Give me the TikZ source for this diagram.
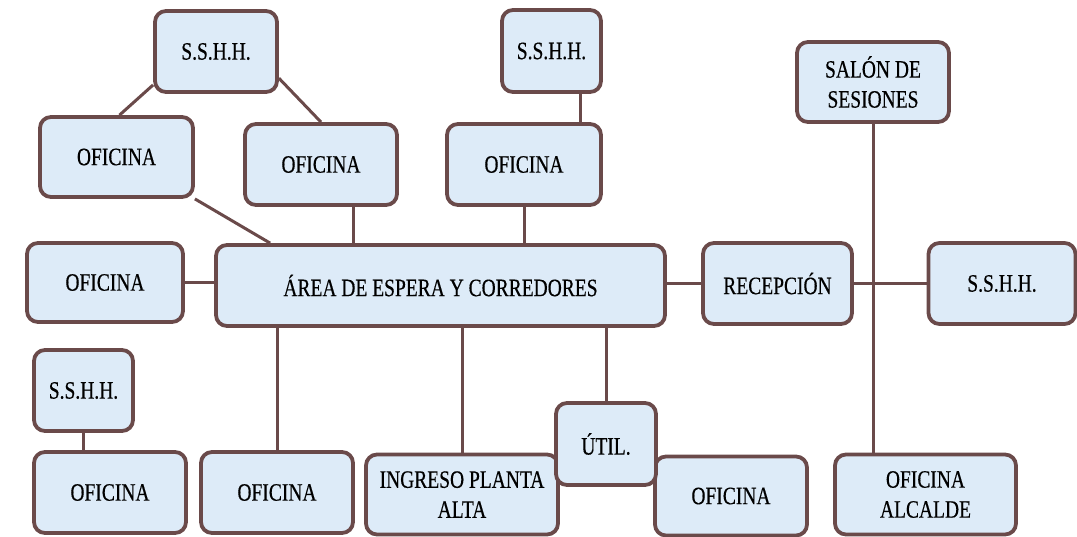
\documentclass[tikz,border=0pt]{standalone}
\usepackage{fontspec}
\setmainfont[FakeStretch=0.78,FakeBold=0.4]{Liberation Serif}
\definecolor{bordc}{HTML}{6A4A4A}
\definecolor{fillc}{HTML}{DDEBF8}
\begin{document}
\begin{tikzpicture}[x=1pt,y=-1pt,
  box/.style={draw=bordc, line width=3.8pt, fill=fillc, rounded corners=11pt,
    align=center, inner sep=0pt, font=\fontsize{25}{30}\selectfont},
  link/.style={draw=bordc, line width=3pt}]
\useasboundingbox (0,0) rectangle (1077,536);
\node[box, minimum width=122pt, minimum height=81pt] (s1) at (216,51.5) {S.S.H.H.};
\node[box, minimum width=153pt, minimum height=80pt] (o2) at (116.5,157) {OFICINA};
\node[box, minimum width=152pt, minimum height=81pt] (o3) at (321,164.5) {OFICINA};
\node[box, minimum width=99pt, minimum height=82pt] (s4) at (551.5,51) {S.S.H.H.};
\node[box, minimum width=154pt, minimum height=81pt] (o5) at (524,164.5) {OFICINA};
\node[box, minimum width=152pt, minimum height=80pt] (salon) at (873,82) {SALÓN DE\\SESIONES};
\node[box, minimum width=156pt, minimum height=79pt] (o7) at (105,282.5) {OFICINA};
\node[box, minimum width=449pt, minimum height=81pt] (area) at (440.5,285.5) {ÁREA DE ESPERA Y CORREDORES};
\node[box, minimum width=149pt, minimum height=81pt] (rec) at (777.5,283.5) {RECEPCIÓN};
\node[box, minimum width=147pt, minimum height=81pt] (s10) at (1002,283.5) {S.S.H.H.};
\node[box, minimum width=99pt, minimum height=81pt] (s11) at (83.5,390.5) {S.S.H.H.};
\node[box, minimum width=152pt, minimum height=81pt] (o12) at (110,492.5) {OFICINA};
\node[box, minimum width=152pt, minimum height=81pt] (o13) at (277,492.5) {OFICINA};
\node[box, minimum width=192pt, minimum height=80pt] (ing) at (462,494.5) {INGRESO PLANTA\\ALTA};
\node[box, minimum width=152pt, minimum height=79pt] (o16) at (731,496) {OFICINA};
\node[box, minimum width=100pt, minimum height=82pt] (util) at (606,444) {ÚTIL.};
\node[box, minimum width=181pt, minimum height=80pt] (alc) at (925.5,494.5) {OFICINA\\ALCALDE};
% connectors
\draw[link] (s1.208) -- ([xshift=3pt]o2.north);
\draw[link] (s1.-23) -- (o3.north);
\draw[link] (o2.south east) -- ([xshift=56pt]area.north west);
\draw[link] ([xshift=32pt]o3.south) -- ([xshift=32pt]o3.south |- area.north);
\draw[link] ([xshift=28.5pt]s4.south) -- ([xshift=28.5pt]s4.south |- o5.north);
\draw[link] (o5.south) -- (o5.south |- area.north);
\draw[link] (o7.east) -- (o7.east -| area.west);
\draw[link] (rec.west -| area.east) -- (rec.west);
\draw[link] (rec.east) -- (s10.west);
\draw[link] (salon.south) -- (salon.south |- alc.north);
\draw[link] (o13.north) -- (o13.north |- area.south);
\draw[link] (ing.north) -- (ing.north |- area.south);
\draw[link] (util.north) -- (util.north |- area.south);
\draw[link] (s11.south) -- (s11.south |- o12.north);
\end{tikzpicture}
\end{document}
